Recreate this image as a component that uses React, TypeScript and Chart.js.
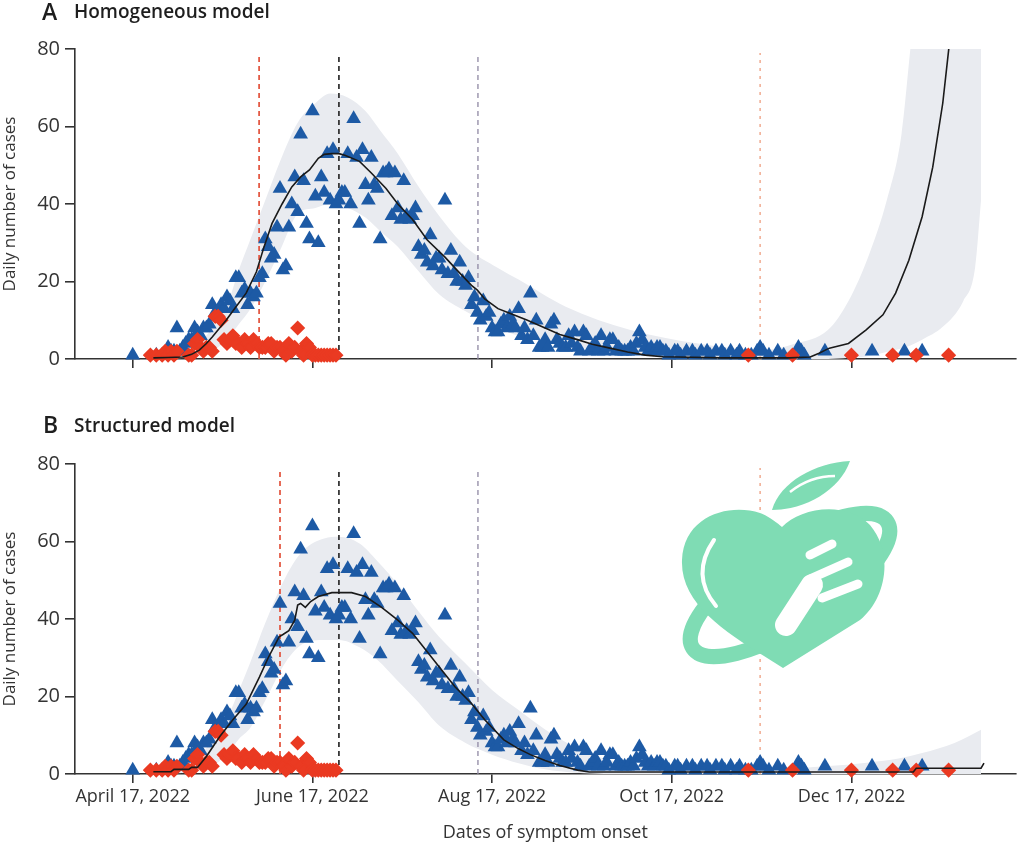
import React, { useEffect, useRef } from 'react';
import { Chart, registerables } from 'chart.js';

Chart.register(...registerables);
Chart.defaults.font.family = "'Open Sans', sans-serif";

// ---- axes ----
const X_MIN = -19.6; // days since April 17, 2022
const X_MAX = 299.7;
const tickDays = [0, 61, 122, 183, 244];
const tickLabels = ['April 17, 2022', 'June 17, 2022', 'Aug 17, 2022', 'Oct 17, 2022', 'Dec 17, 2022'];
const yTicks = [0, 20, 40, 60, 80];

// ---- observed cases (blue triangles), day offset from April 17, 2022 ----
const observedDays = [
  0, 8, 10, 12, 13, 14, 15, 16, 17, 18, 19, 20, 21, 22, 23, 24, 25, 26, 27, 28, 29, 30,
  31, 32, 33, 34, 35, 36, 37, 38, 39, 40, 41, 42, 43, 44, 45, 46, 47, 48, 49, 50,
  51, 52, 53, 54, 55, 56, 57, 58, 59, 60, 61, 62, 63, 64, 65, 66, 67, 68, 69, 70,
  71, 72, 73, 74, 75, 76, 77, 78, 79, 80, 81, 82, 83, 84, 85, 86, 87, 88, 89, 90,
  91, 92, 93, 94, 95, 96, 97, 98, 99, 100, 101, 102, 103, 104, 105, 106, 107, 108, 109, 110,
  111, 112, 113, 114, 115, 116, 117, 118, 119, 120, 121, 122, 123, 124, 125, 126, 127, 128, 129, 130,
  131, 132, 133, 134, 135, 136, 137, 138, 139, 140, 141, 142, 143, 144, 145, 146, 147, 148, 149, 150,
  151, 152, 153, 154, 155, 156, 157, 158, 159, 160, 161, 162, 163, 164, 165, 166, 167, 168, 169, 170,
  171, 172, 173, 174, 175, 176, 177, 178, 179, 180, 181, 182, 184, 185, 186, 188, 190, 191, 193, 195,
  196, 198, 200, 201, 203, 205, 206, 208, 210, 212, 213, 214, 216, 219, 221, 226, 227, 228, 235, 251,
  262, 268,
];
const observedCases = [
  1, 1, 1, 3, 2, 2, 8, 2, 3, 4, 5, 5, 8, 7, 6, 8, 8, 9, 14, 12, 11, 14,
  13, 16, 15, 13, 21, 21, 17, 18, 14, 17, 16, 17, 21, 22, 31, 29, 26, 27, 34, 44,
  23, 24, 34, 40, 47, 38, 58, 46, 35, 31, 64, 42, 30, 47, 43, 53, 41, 54, 40, 41,
  43, 43, 53, 40, 62, 52, 35, 54, 45, 41, 52, 45, 44, 31, 48, 48, 49, 37, 48, 39,
  36, 46, 37, 36, 37, 39, 29, 27, 28, 25, 32, 24, 26, 26, 23, 41, 22, 28, 22, 20,
  25, 20, 19, 21, 14, 16, 12, 10, 15, 11, 12, 8, 7, 7, 9, 10, 8, 11, 9, 8,
  13, 6, 8, 5, 17, 6, 10, 3, 3, 5, 3, 9, 10, 5, 4, 3, 3, 6, 4, 7,
  3, 2, 7, 6, 2, 3, 4, 2, 6, 2, 3, 5, 5, 2, 3, 2, 2, 2, 3, 2,
  4, 7, 5, 3, 2, 3, 2, 3, 3, 2, 2, 1, 2, 2, 1, 2, 2, 1, 2, 2,
  1, 2, 2, 1, 2, 1, 2, 1, 1, 2, 3, 2, 1, 2, 1, 3, 2, 1, 2, 2,
  2, 2,
];

// ---- second series (red diamonds) ----
const importedDays = [
  6, 8, 10, 11, 12, 13, 14, 15, 19, 20, 21, 22, 23, 24, 25, 26, 27, 28, 29, 30,
  31, 32, 33, 34, 35, 36, 37, 38, 39, 40, 41, 42, 43, 44, 45, 46, 47, 48, 49, 50,
  51, 52, 53, 54, 55, 56, 57, 58, 59, 60, 61, 62, 63, 64, 65, 66, 67, 68, 69,
  209, 224, 244, 258, 266, 277,
];
const importedCases = [
  1, 1, 1, 2, 1, 2, 1, 2, 1, 1, 4, 5, 3, 2, 3, 3, 2, 11, 11, 10,
  5, 4, 5, 6, 4, 4, 3, 5, 4, 3, 5, 4, 3, 3, 3, 4, 4, 2, 3, 3,
  2, 1, 4, 2, 3, 8, 2, 1, 4, 3, 1, 1, 1, 1, 1, 1, 1, 1, 1,
  1, 1, 1, 1, 1, 1,
];

// ---- panel A: homogeneous model ----
const homMeanDays = [7, 12, 17, 20, 22.6, 25, 27, 29.5, 31.7, 35, 38.5, 42, 44.6, 47.3, 50.7, 54, 57, 60, 63, 65, 67.6, 70, 72, 77, 81, 86, 90, 95, 100, 106, 110, 115, 117, 119.5, 124, 128, 134, 140, 145, 151, 156, 162, 168, 174, 180, 185, 200, 215, 223, 230, 233, 236.5, 243, 249, 254.7, 259, 263.5, 268, 271.6, 275, 277, 279];
const homMean = [0.3, 0.4, 0.5, 1.2, 2.3, 4, 5.7, 8, 10, 13.4, 17, 22.5, 29, 35, 40, 44.4, 47, 48.8, 51.8, 52.8, 53, 53, 52.6, 51, 48, 44, 40, 36, 30.7, 26.3, 23, 19, 17.8, 15.5, 13, 11.8, 10, 8, 6.3, 5, 3.8, 2.8, 1.8, 1, 0.6, 0.5, 0.3, 0.3, 0.3, 0.5, 1.5, 2.8, 4, 7.5, 11.4, 17, 25.5, 36.7, 49.5, 66, 79.7, 95];
const homBandDays = [5, 15, 22, 28, 33, 36, 40, 45, 50, 56, 62, 67, 73, 79, 84, 90, 97, 104, 113, 124, 131, 147, 169, 192, 214, 225, 236, 243, 250, 256, 261, 264, 268, 275, 282, 286, 288];
const homUpper = [0.5, 1.5, 4, 9, 16, 23, 31, 41, 51, 61, 66, 68.5, 67.5, 64, 59, 53, 44.5, 37, 29, 23.5, 20.5, 13.5, 7.5, 4, 2.3, 4, 7.5, 15, 27, 41, 58, 80, 110, 200, 300, 380, 420];
const homLower = [0, 0.2, 0.8, 2.5, 6, 9, 13, 20, 28, 37.5, 39, 40, 39, 36.5, 33, 29, 22.7, 16.7, 12.3, 8, 6, 3.5, 1.2, 0.2, 0, 0, 0, 0.3, 0.8, 1.8, 2.7, 3.5, 5, 8.3, 15, 23.7, 41];
const homMarkerDays = [42.9, 70, 117.2, 213];

// ---- panel B: structured model ----
const strMeanDays = [7, 13, 14, 19, 20, 22, 25, 29.5, 34, 38.5, 43, 46, 49.7, 51, 53, 55, 56, 57, 58.6, 60.4, 63, 67.6, 74.3, 79, 84.5, 90, 95, 99.5, 104, 109.4, 115, 119.5, 126, 131, 135, 140, 145, 151, 155, 265, 266, 288, 289];
const strMean = [0.6, 0.6, 1.2, 1.2, 1.7, 1.7, 4.5, 9.6, 14, 18, 25, 30, 35.4, 36, 37, 39.7, 43.6, 44, 43, 44.5, 45.8, 46.8, 46.8, 45.8, 43, 39.7, 36.3, 32, 27.7, 22.5, 18.2, 14, 8.8, 6.5, 5, 3.5, 2.2, 1, 0.5, 0.5, 1.5, 1.5, 2.8];
const strBandDays = [5, 15, 22, 28, 33, 36, 40, 45, 52, 58, 65, 70, 77, 83, 90, 97, 104, 113, 122, 131, 140, 150, 160, 170, 185, 200, 220, 235, 250, 260, 268, 279, 288];
const strUpper = [0.5, 1.5, 4, 10, 16, 21.5, 29, 39, 51, 57.8, 60.8, 61.2, 59.5, 55, 49, 42, 35.4, 28.5, 21.7, 16.5, 11.5, 7, 4, 2.5, 1.5, 1.2, 1.3, 2, 3, 4, 5.4, 8, 11.4];
const strLower = [0, 0.2, 0.8, 2.5, 6, 9, 12, 19, 29, 33.7, 34.6, 34.6, 32.7, 29.5, 24, 18.5, 12.5, 8, 5, 2.8, 1.2, 0.3, 0, 0, 0, 0, 0, 0, 0, 0, 0, 0, 0];
const strMarkerDays = [50, 70, 117.2, 213];
const markerTop = 79;

const pts = (xs: number[], ys: number[]) => xs.map((x, i) => ({ x, y: ys[i] }));

const markerStyles = [
  { color: '#e2513b', dash: [5, 4], width: 1.7 },
  { color: '#2b2b2b', dash: [5, 4], width: 1.7 },
  { color: '#8f88a3', dash: [5, 4], width: 1.3 },
  { color: '#f2b59e', dash: [3, 5], width: 1.7 },
];

const BLUE = '#1d5aa5';
const RED = '#ea3a22';
const BAND = '#e9ebf0';
const AXIS = '#333333';

type Panel = {
  meanDays: number[]; mean: number[];
  bandDays: number[]; upper: number[]; lower: number[];
  markers: number[]; padTop: number; xHeight: number; labels: boolean;
};

function buildConfig(p: Panel): any {
  const datasets: any[] = [
    {
      type: 'line', data: pts(p.meanDays, p.mean), borderColor: '#1a1a1a', borderWidth: 1.6,
      pointRadius: 0, fill: false, tension: 0,
    },
    {
      type: 'scatter', data: pts(importedDays, importedCases), pointStyle: 'rectRot', pointRadius: 6.5,
      backgroundColor: RED, borderColor: RED, borderWidth: 1.5, clip: false,
    },
    {
      type: 'scatter', data: pts(observedDays, observedCases), pointStyle: 'triangle', pointRadius: 8.5,
      backgroundColor: BLUE, borderColor: BLUE, borderWidth: 0, clip: false,
    },
    ...p.markers.map((d, i) => ({
      type: 'line', data: [{ x: d, y: 0 }, { x: d, y: markerTop }], borderColor: markerStyles[i].color,
      borderWidth: markerStyles[i].width, borderDash: markerStyles[i].dash, pointRadius: 0, fill: false,
    })),
    {
      type: 'line', data: pts(p.bandDays, p.upper), borderColor: 'transparent', borderWidth: 0,
      pointRadius: 0, fill: '+1', backgroundColor: BAND, cubicInterpolationMode: 'monotone',
    },
    {
      type: 'line', data: pts(p.bandDays, p.lower), borderColor: 'transparent', borderWidth: 0,
      pointRadius: 0, fill: false, cubicInterpolationMode: 'monotone',
    },
  ];
  return {
    type: 'scatter',
    data: { datasets },
    options: {
      animation: false,
      responsive: true,
      maintainAspectRatio: false,
      events: [],
      layout: { padding: { top: p.padTop, left: 0, right: 4, bottom: 0 } },
      plugins: { legend: { display: false }, tooltip: { enabled: false } },
      scales: {
        x: {
          type: 'linear', min: X_MIN, max: X_MAX,
          afterBuildTicks: (s: any) => { s.ticks = tickDays.map((v) => ({ value: v })); },
          afterFit: (s: any) => { s.height = p.xHeight; },
          ticks: {
            autoSkip: false, maxRotation: 0, padding: 3, color: '#333',
            font: { size: 18 },
            callback: (v: any) => (p.labels ? tickLabels[tickDays.indexOf(Number(v))] ?? '' : ''),
          },
          grid: { display: true, drawOnChartArea: false, drawTicks: true, tickLength: 9, color: AXIS, lineWidth: 1.6 },
          border: { display: true, color: AXIS, width: 1.6 },
          title: {
            display: p.labels, text: 'Dates of symptom onset', color: '#333',
            font: { size: 18 }, padding: { top: 0, bottom: 2 },
          },
        },
        y: {
          min: 0, max: 80,
          afterBuildTicks: (s: any) => { s.ticks = yTicks.map((v) => ({ value: v })); },
          afterFit: (s: any) => { s.width = 75; },
          ticks: { padding: 5, color: '#333', font: { size: 20 } },
          grid: { display: true, drawOnChartArea: false, drawTicks: true, tickLength: 10, color: AXIS, lineWidth: 1.6 },
          border: { display: true, color: AXIS, width: 1.6 },
          title: {
            display: true, text: 'Daily number of cases', color: '#333',
            font: { size: 17 }, padding: { top: 0, bottom: 0 },
          },
        },
      },
    },
  };
}

function ChartCanvas({ panel }: { panel: Panel }) {
  const ref = useRef<HTMLCanvasElement | null>(null);
  useEffect(() => {
    if (!ref.current) return;
    const chart = new Chart(ref.current, buildConfig(panel));
    return () => chart.destroy();
  }, [panel]);
  return <canvas ref={ref} />;
}

const panelA: Panel = {
  meanDays: homMeanDays, mean: homMean, bandDays: homBandDays, upper: homUpper, lower: homLower,
  markers: homMarkerDays, padTop: 49, xHeight: 41, labels: false,
};
const panelB: Panel = {
  meanDays: strMeanDays, mean: strMean, bandDays: strBandDays, upper: strUpper, lower: strLower,
  markers: strMarkerDays, padTop: 64, xHeight: 72, labels: true,
};

const txt: React.CSSProperties = {
  position: 'absolute', fontFamily: "'Open Sans', sans-serif", color: '#1e1e1e', lineHeight: 1, whiteSpace: 'nowrap',
};

function Watermark() {
  const g = '#7fdcb4';
  return (
    <svg width={1024} height={846} style={{ position: 'absolute', left: 0, top: 0, pointerEvents: 'none' }}>
      <ellipse cx={790} cy={585} rx={116} ry={40} transform="rotate(-33 790 585)" fill="none" stroke={g} strokeWidth={15} />
      <path d="M783,668 C740,640 680,610 682,560 C684,515 730,503 760,513 C770,517 777,523 782,527 C800,508 845,500 870,525 C895,555 885,600 860,620 Z" fill={g} />
      <path d="M772,510 C780,482 815,463 850,461 C840,490 805,510 772,510 Z" fill={g} />
      <path d="M790,492 C805,480 822,476 835,476" stroke="#ffffff" strokeWidth={2.5} fill="none" />
      <path d="M714,540 Q690,575 716,606" stroke="#ffffff" strokeWidth={4} fill="none" strokeLinecap="round" />
      <g stroke="#ffffff" strokeLinecap="round" fill="none">
        <line x1={810} y1={555} x2={832} y2={544} strokeWidth={9} />
        <line x1={812} y1={578} x2={848} y2={562} strokeWidth={9} />
        <line x1={822} y1={598} x2={858} y2={584} strokeWidth={9} />
        <line x1={786} y1={625} x2={812} y2={585} strokeWidth={22} />
      </g>
    </svg>
  );
}

export default function App() {
  return (
    <div style={{ position: 'absolute', left: 0, top: 0, width: 1024, height: 846, background: '#fff' }}>
      <div style={{ position: 'absolute', left: 0, top: 0, width: 1024, height: 400 }}>
        <ChartCanvas panel={panelA} />
      </div>
      <div style={{ position: 'absolute', left: 0, top: 400, width: 1024, height: 446 }}>
        <ChartCanvas panel={panelB} />
      </div>
      <div style={{ ...txt, left: 42, top: 0, fontSize: 23, fontWeight: 600 }}>A</div>
      <div style={{ ...txt, left: 74, top: 2, fontSize: 19, fontWeight: 600 }}>Homogeneous model</div>
      <div style={{ ...txt, left: 43, top: 413, fontSize: 23, fontWeight: 600 }}>B</div>
      <div style={{ ...txt, left: 74, top: 416, fontSize: 19, fontWeight: 600 }}>Structured model</div>
      <Watermark />
    </div>
  );
}
